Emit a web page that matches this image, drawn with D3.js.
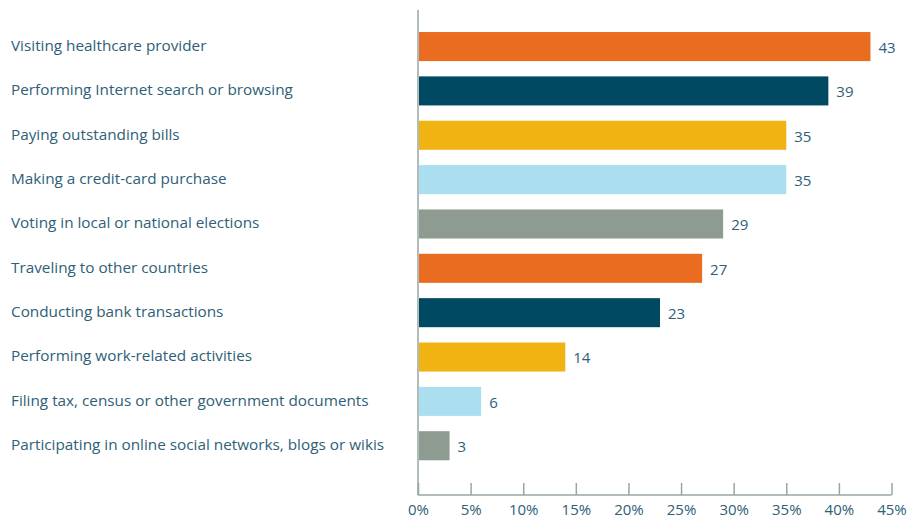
<!DOCTYPE html>
<html>
<head>
<meta charset="utf-8">
<script src="https://cdn.jsdelivr.net/npm/d3@7"></script>
<style>
  body { margin: 0; background: #fff; }
  text { font-family: "Open Sans", "Noto Sans", sans-serif; }
</style>
</head>
<body>
<div id="chart"></div>
<script>
const categories = [
  "Visiting healthcare provider",
  "Performing Internet search or browsing",
  "Paying outstanding bills",
  "Making a credit-card purchase",
  "Voting in local or national elections",
  "Traveling to other countries",
  "Conducting bank transactions",
  "Performing work-related activities",
  "Filing tax, census or other government documents",
  "Participating in online social networks, blogs or wikis"
];
const values = [43, 39, 35, 35, 29, 27, 23, 14, 6, 3];
const barColors = ["#e96c20", "#004963", "#f0b311", "#abdff0", "#8d9b91"];
const tickValues = [0, 5, 10, 15, 20, 25, 30, 35, 40, 45];

const width = 912, height = 519;
const textColor = "#2e6077";
const axisColor = "#98a6a2";

const svg = d3.select("#chart").append("svg")
  .attr("width", width)
  .attr("height", height);

const x = d3.scaleLinear().domain([0, 45]).range([418, 891.5]);
const y = d3.scaleBand().domain(categories)
  .range([24.5, 467.8]).paddingInner(0.345).paddingOuter(0.17);

// vertical axis line
svg.append("line")
  .attr("x1", 418).attr("x2", 418)
  .attr("y1", 10).attr("y2", 495)
  .attr("stroke", axisColor).attr("stroke-width", 1.5);

// bottom axis
const xAxis = d3.axisBottom(x)
  .tickValues(tickValues)
  .tickSize(-12)
  .tickPadding(9)
  .tickFormat(d => d + "%");

const axisG = svg.append("g")
  .attr("transform", "translate(0,495)")
  .call(xAxis);
axisG.select(".domain").attr("stroke", axisColor).attr("stroke-width", 1.5)
  .attr("d", `M${x(0)},0H${x(45)}`);
axisG.selectAll(".tick line").attr("stroke", axisColor).attr("stroke-width", 1.5);
axisG.selectAll(".tick text")
  .attr("fill", textColor)
  .attr("font-size", 15)
  .attr("font-family", "'Open Sans', 'Noto Sans', sans-serif");

// category labels
svg.append("g").selectAll("text")
  .data(categories)
  .join("text")
  .attr("x", 11)
  .attr("y", d => y(d) + y.bandwidth() / 2 - 1)
  .attr("dy", "0.35em")
  .attr("fill", textColor)
  .attr("font-size", 15.3)
  .text(d => d);

// bars
svg.append("g").selectAll("rect")
  .data(values)
  .join("rect")
  .attr("x", x(0) + 1)
  .attr("y", (d, i) => y(categories[i]))
  .attr("width", d => x(d) - x(0) - 1)
  .attr("height", y.bandwidth())
  .attr("fill", (d, i) => barColors[i % barColors.length]);

// value labels
svg.append("g").selectAll("text")
  .data(values)
  .join("text")
  .attr("x", d => x(d) + 8)
  .attr("y", (d, i) => y(categories[i]) + y.bandwidth() / 2 + 1)
  .attr("dy", "0.35em")
  .attr("fill", textColor)
  .attr("font-size", 15)
  .text(d => d);
</script>
</body>
</html>
